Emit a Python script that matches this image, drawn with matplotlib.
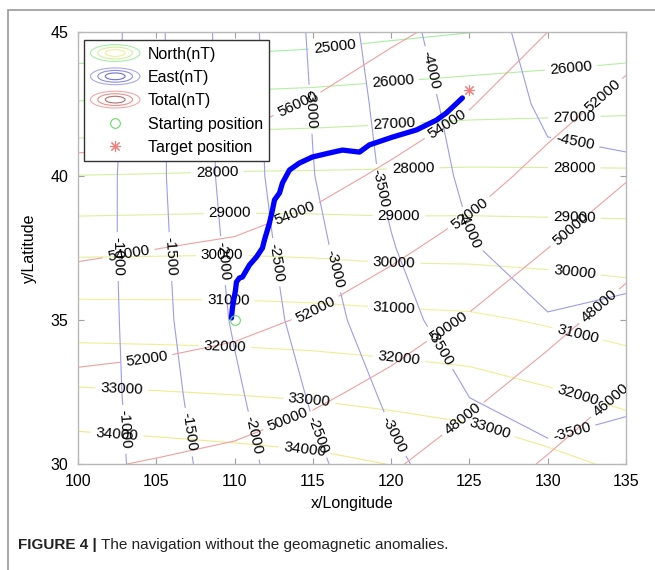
import matplotlib
matplotlib.use('Agg')
import matplotlib.pyplot as plt
import numpy as np
from matplotlib.colors import LinearSegmentedColormap
from matplotlib.legend_handler import HandlerBase
from matplotlib.lines import Line2D
from matplotlib.patches import Ellipse, Rectangle

# grid nodes of the geomagnetic maps
lon = [100, 105, 110, 115, 120, 125, 130, 135]
lat = [30, 32.5, 35, 37.5, 40, 42.5, 45]

north_nt = [
    [34740, 34590, 34440, 34280, 33980, 33740, 33280, 32820],
    [33110, 33030, 32940, 32830, 32660, 32450, 32090, 31720],
    [31490, 31470, 31450, 31380, 31270, 31180, 30890, 30600],
    [29780, 29810, 29840, 29780, 29670, 29660, 29620, 29580],
    [28020, 28060, 28110, 28130, 28160, 28190, 28170, 28150],
    [26080, 26220, 26360, 26430, 26540, 26660, 26720, 26780],
    [24150, 24290, 24430, 24560, 24790, 24980, 25200, 25410],
]
east_nt = [
    [-640, -1221, -1810, -2395, -2902, -3300, -3400, -3350],
    [-640, -1282, -1923, -2568, -3104, -3517, -3679, -3578],
    [-620, -1340, -2052, -2750, -3319, -3755, -3976, -3902],
    [-630, -1368, -2125, -2871, -3469, -3970, -4190, -4169],
    [-600, -1397, -2195, -2984, -3605, -4100, -4405, -4440],
    [-520, -1395, -2210, -3027, -3683, -4203, -4580, -4620],
    [-470, -1406, -2233, -3076, -3789, -4327, -4650, -4700],
]
total_nt = [
    [50200, 49880, 49530, 48900, 48200, 47030, 45820, 44500],
    [51530, 51350, 51000, 50370, 49490, 48430, 47190, 45890],
    [52900, 52725, 52430, 51830, 50900, 49840, 48590, 47280],
    [54260, 54020, 53780, 53215, 52360, 51330, 50010, 48690],
    [55580, 55450, 55170, 54565, 53710, 52760, 51400, 50130],
    [56890, 56860, 56560, 55875, 55000, 54110, 52730, 51470],
    [58210, 58250, 57940, 57190, 56280, 55460, 54000, 52800],
]

north_levels = list(range(25000, 35000, 1000))
east_levels = list(range(-4500, -500, 500))
total_levels = list(range(46000, 58000, 2000))

# navigation track
path_lon = [109.80, 109.87, 110.06, 110.12, 110.31, 110.50, 110.95, 111.40, 111.78,
            111.91, 112.10, 112.23, 112.42, 112.55, 112.87, 113.06, 113.51, 114.14,
            114.97, 116.06, 116.89, 117.98, 118.61, 120.08, 121.62, 122.89, 123.53, 124.55]
path_lat = [35.07, 35.45, 36.04, 36.32, 36.46, 36.49, 36.91, 37.19, 37.50,
            37.78, 38.13, 38.37, 38.82, 39.17, 39.41, 39.76, 40.21, 40.45,
            40.66, 40.80, 40.90, 40.83, 41.08, 41.35, 41.60, 41.94, 42.19, 42.71]
start_pos = (110.0, 35.0)
target_pos = (125.0, 43.0)

# where the contour labels sit
north_label_pos = [(116.4, 44.55), (120.1, 43.26), (131.5, 43.78), (120.2, 41.77), (131.7, 42.05),
                   (108.9, 40.14), (121.4, 40.31), (131.7, 40.45), (109.7, 38.65), (120.5, 38.68),
                   (131.7, 38.58), (109.2, 37.19), (120.2, 37.08), (131.7, 36.56), (109.6, 35.76),
                   (120.2, 35.45), (131.9, 34.48), (109.4, 34.2), (120.5, 33.72), (132.0, 32.47),
                   (102.8, 32.67), (114.8, 32.4), (126.3, 31.25), (102.5, 31.07), (114.5, 30.66)]
east_label_pos = [(102.3, 37.2), (102.8, 31.2), (105.85, 37.2), (107.0, 31.1), (109.0, 37.05),
                  (111.1, 30.97), (112.35, 36.98), (115.1, 30.97), (114.3, 42.3), (116.06, 36.74),
                  (119.9, 30.94), (118.7, 39.5), (122.4, 33.8), (131.5, 31.2), (121.8, 43.58),
                  (124.6, 38.05), (131.6, 40.73)]
total_label_pos = [(114.0, 42.5), (103.3, 37.08), (113.95, 38.58), (123.5, 41.84), (104.4, 33.5),
                   (115.2, 35.35), (125.0, 38.7), (133.3, 42.9), (113.5, 31.4), (123.7, 34.76),
                   (131.4, 38.2), (124.9, 31.35), (133.1, 35.6), (134.07, 32.2)]

north_colors = ['#a6eea6', '#d4f0a0', '#f0f09a', '#eeea8c']
east_color = '#9c9cee'
total_color = '#f0a0a0'


class ContourHandler(HandlerBase):
    """Legend icon made of concentric ellipses, like a contour map."""

    def __init__(self, colors):
        super().__init__()
        self.colors = colors

    def create_artists(self, legend, orig_handle, xdescent, ydescent, width, height, fontsize, trans):
        cx = width / 2 - xdescent
        cy = height / 2 - ydescent
        arts = []
        for i, c in enumerate(self.colors):
            s = 1 - i * 0.3
            arts.append(Ellipse((cx, cy), width * s, height * 1.5 * s, fill=False,
                                edgecolor=c, lw=0.8, transform=trans))
        return arts


plt.rcParams['font.family'] = ['Liberation Sans', 'DejaVu Sans']

fig = plt.figure(figsize=(6.55, 5.70), dpi=100)
ax = fig.add_axes([78 / 655, 1 - 464 / 570, 548 / 655, 432 / 570])

X, Y = np.meshgrid(lon, lat)
ncmap = LinearSegmentedColormap.from_list('north', north_colors)
cs_n = ax.contour(X, Y, np.array(north_nt), levels=north_levels, cmap=ncmap,
                  linewidths=0.8, linestyles='solid')
cs_e = ax.contour(X, Y, np.array(east_nt), levels=east_levels, colors=east_color,
                  linewidths=0.8, linestyles='solid')
cs_t = ax.contour(X, Y, np.array(total_nt), levels=total_levels, colors=total_color,
                  linewidths=0.8, linestyles='solid')

ax.clabel(cs_n, manual=north_label_pos, inline=True, fontsize=11, fmt='%d', colors='k')
ax.clabel(cs_e, manual=east_label_pos, inline=True, fontsize=11, fmt='%d', colors='k')
ax.clabel(cs_t, manual=total_label_pos, inline=True, fontsize=11, fmt='%d', colors='k')

ax.plot(path_lon, path_lat, color='#0000ff', lw=3.8, solid_capstyle='round',
        solid_joinstyle='round', zorder=5)
ax.plot(*start_pos, ls='none', marker='o', mfc='none', mec='#66dd66', ms=7, mew=0.8, zorder=6)
ax.plot(*target_pos, ls='none', marker=(8, 2, 0), color='#f08080', ms=8, mew=0.8, zorder=6)

ax.set_xlim(100, 135)
ax.set_ylim(30, 45)
ax.set_xticks([100, 105, 110, 115, 120, 125, 130, 135])
ax.set_yticks([30, 35, 40, 45])
ax.tick_params(direction='in', top=True, right=True, length=4, color='#a0a0a0',
               labelsize=11.5, labelcolor='k', pad=7)
for sp in ax.spines.values():
    sp.set_color('#b8b8b8')
    sp.set_linewidth(1.0)
ax.set_xlabel('x/Longitude', fontsize=11.5, labelpad=5)
ax.set_ylabel('y/Latitude', fontsize=11.5, labelpad=10)

h_n = Line2D([], [])
h_e = Line2D([], [])
h_t = Line2D([], [])
h_s = Line2D([], [], ls='none', marker='o', mfc='none', mec='#66dd66', ms=7, mew=0.8)
h_g = Line2D([], [], ls='none', marker=(8, 2, 0), color='#f08080', ms=8, mew=0.8)
ax.legend([h_n, h_e, h_t, h_s, h_g],
          ['North(nT)', 'East(nT)', 'Total(nT)', 'Starting position', 'Target position'],
          handler_map={h_n: ContourHandler(['#a6eea6', '#d4f0a0', '#f0f09a']),
                       h_e: ContourHandler(['#a8a8f4', '#8c8ce8', '#7070d0']),
                       h_t: ContourHandler(['#f4a8a8', '#e89090', '#b07070'])},
          loc='upper left', bbox_to_anchor=(0.011, 0.981), borderaxespad=0,
          fancybox=False, edgecolor='#333333', framealpha=1, fontsize=11.5,
          handlelength=3.1, labelspacing=0.52, borderpad=0.4, handletextpad=0.5)

# outer frame of the figure panel
fig.patches.append(Rectangle((8 / 655, -0.05), 1.2, 1 - 10 / 570 + 0.05, fill=False,
                             edgecolor='#999999', lw=1.2, transform=fig.transFigure, figure=fig))

t1 = fig.text(18 / 655, 1 - 545 / 570, 'FIGURE 4 |', fontsize=11, fontweight='bold',
              va='center', color='#222222')
fig.canvas.draw()
bb = t1.get_window_extent()
fig.text(bb.x1 / fig.bbox.width, 1 - 545 / 570, ' The navigation without the geomagnetic anomalies.',
         fontsize=11, va='center', color='#222222')

fig.savefig('out.png', dpi=100)
